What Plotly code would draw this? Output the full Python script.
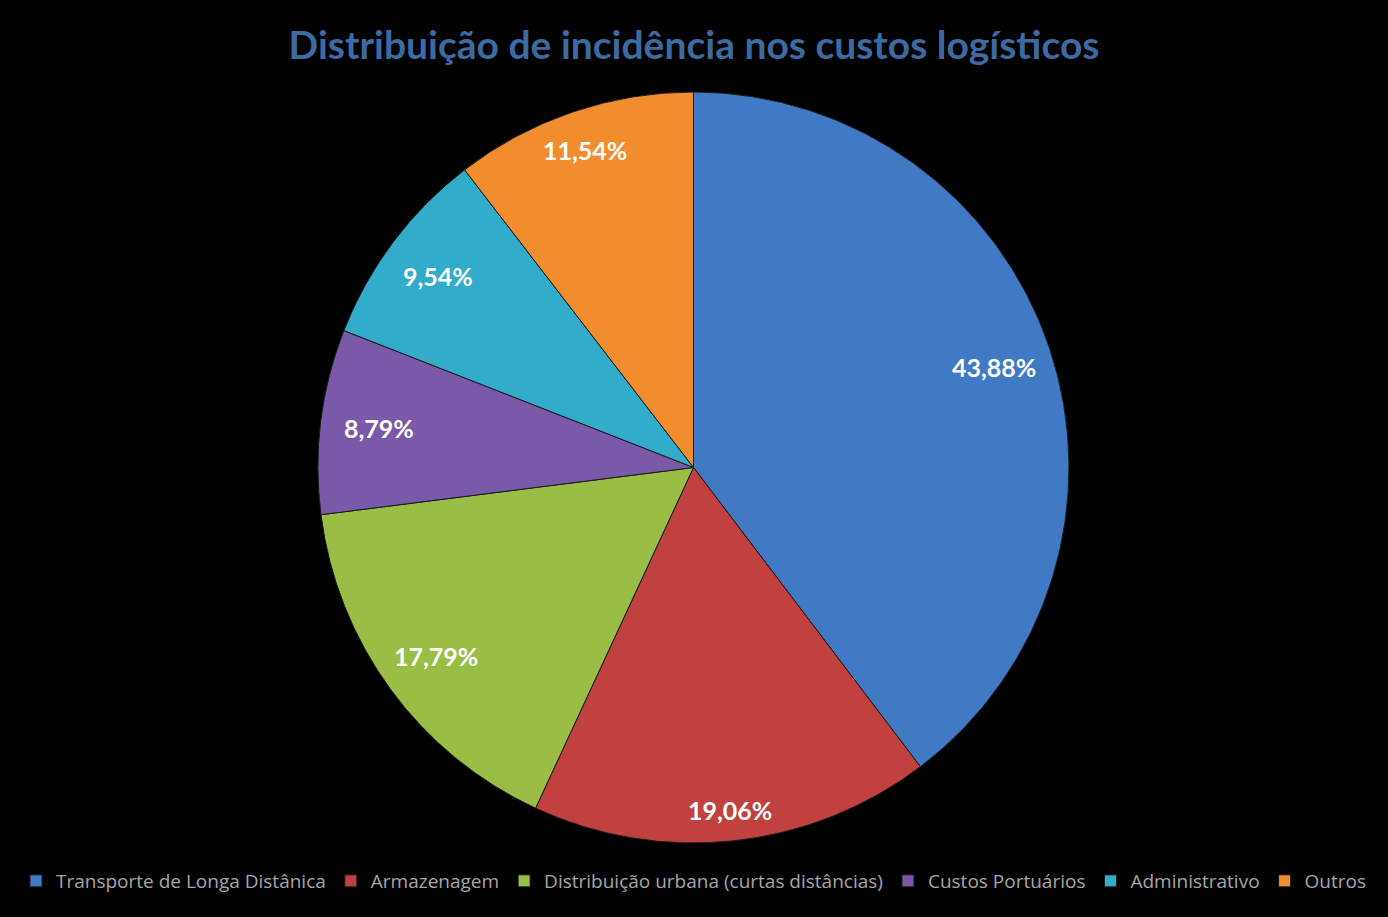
import math
import plotly.graph_objects as go

categories = ["Transporte de Longa Distânica", "Armazenagem", "Distribuição urbana (curtas distâncias)",
              "Custos Portuários", "Administrativo", "Outros"]
values = [43.88, 19.06, 17.79, 8.79, 9.54, 11.54]
labels_text = ["43,88%", "19,06%", "17,79%", "8,79%", "9,54%", "11,54%"]
colors = ["#4079C4", "#C0413D", "#9ABD45", "#7A59A8", "#33ABCB", "#F28D2E"]

W, H = 1388, 917
cx, cy, r = 693.5, 467.5, 375.5
dx0, dx1 = (cx - r) / W, (cx + r) / W
dy0, dy1 = (H - (cy + r)) / H, (H - (cy - r)) / H

fig = go.Figure(go.Pie(
    labels=categories,
    values=values,
    text=labels_text,
    textinfo="none",
    hoverinfo="label+text",
    sort=False,
    direction="clockwise",
    rotation=0,
    marker=dict(colors=colors, line=dict(color="#1a1a1a", width=1)),
    domain=dict(x=[dx0, dx1], y=[dy0, dy1]),
))

# data labels placed near the outer end of each slice (angles derived from the values)
total = sum(values)
cum = 0.0
annotations = []
for v, t in zip(values, labels_text):
    mid = (cum + v / 2) / total * 2 * math.pi
    cum += v
    # keep the label box inside the slice: pull in by its half-extent along the radius
    half_ext = 42 * abs(math.sin(mid)) + 12 * abs(math.cos(mid))
    dist = 0.96 * r - half_ext
    px = cx + dist * math.sin(mid)
    py = cy - dist * math.cos(mid)
    annotations.append(dict(x=px / W, y=1 - py / H, xref="paper", yref="paper",
                            text="<b>%s</b>" % t, showarrow=False,
                            font=dict(family="Lato", size=25, color="white"),
                            xanchor="center", yanchor="middle"))

fig.update_layout(
    width=W, height=H,
    paper_bgcolor="black", plot_bgcolor="black",
    margin=dict(l=0, r=0, t=0, b=0),
    title=dict(text="<b>Distribuição de incidência nos custos logísticos</b>",
               x=0.5, xanchor="center", y=1 - 45 / H, yanchor="middle",
               font=dict(family="Lato", size=39, color="#3C6AA3")),
    annotations=annotations,
    showlegend=True,
    legend=dict(orientation="h", x=0.5, xanchor="center", y=1 - 881 / H, yanchor="middle",
                font=dict(family="Open Sans", size=19, color="#A6A6A6"),
                itemwidth=30, bgcolor="rgba(0,0,0,0)", traceorder="normal"),
)

fig.write_html("out.html", config={"displayModeBar": False},
               post_script="document.body.style.margin='0';document.body.style.background='black';")
